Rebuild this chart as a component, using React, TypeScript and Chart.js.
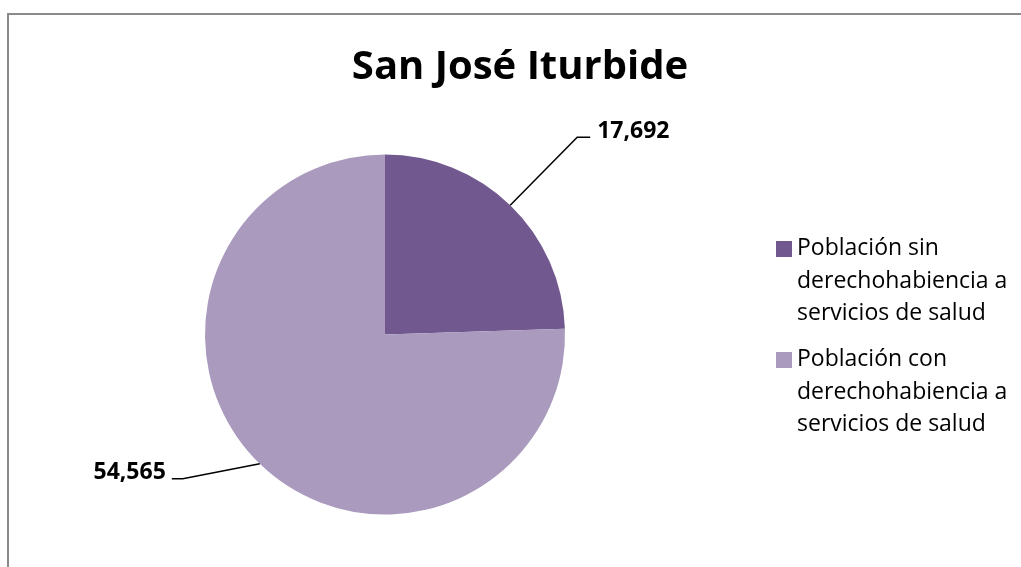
import React, { useEffect, useRef } from "react";
import { Chart, registerables } from "chart.js";

Chart.register(...registerables);

const titleText = "San José Iturbide";
const categories = [
  "Población sin derechohabiencia a servicios de salud",
  "Población con derechohabiencia a servicios de salud",
];
const values = [17692, 54565];
const colors = ["#71598F", "#A99ABE"];
// leader line: [elbow dx, elbow dy, horizontal run] from slice edge midpoint
const leaderOffsets: [number, number, number][] = [
  [67, -68, 13],
  [-77, 15, -11],
];

const FONT = '"Open Sans", "Liberation Sans", sans-serif';

function wrapText(ctx: CanvasRenderingContext2D, text: string, maxW: number): string[] {
  const words = text.split(" ");
  const lines: string[] = [];
  let cur = "";
  for (const w of words) {
    const test = cur ? cur + " " + w : w;
    if (cur && ctx.measureText(test).width > maxW) {
      lines.push(cur);
      cur = w;
    } else cur = test;
  }
  if (cur) lines.push(cur);
  return lines;
}

const overlayPlugin = {
  id: "overlay",
  afterDraw(chart: any) {
    const ctx: CanvasRenderingContext2D = chart.ctx;
    ctx.save();
    // title
    ctx.fillStyle = "#000";
    ctx.font = `bold 40px ${FONT}`;
    ctx.textAlign = "center";
    ctx.textBaseline = "alphabetic";
    ctx.fillText(titleText, 520, 79);

    // data labels with leader lines
    const meta = chart.getDatasetMeta(0);
    ctx.font = `bold 23px ${FONT}`;
    meta.data.forEach((arc: any, i: number) => {
      const p = arc.getProps(["x", "y", "startAngle", "endAngle", "outerRadius"], true);
      const mid = (p.startAngle + p.endAngle) / 2;
      const ex = p.x + Math.cos(mid) * p.outerRadius;
      const ey = p.y + Math.sin(mid) * p.outerRadius;
      const [dx, dy, run] = leaderOffsets[i];
      const bx = ex + dx;
      const by = ey + dy;
      const hx = bx + run;
      ctx.strokeStyle = "#000";
      ctx.lineWidth = 1.5;
      ctx.beginPath();
      ctx.moveTo(ex, ey);
      ctx.lineTo(bx, by);
      ctx.lineTo(hx, by);
      ctx.stroke();
      const label = values[i].toLocaleString("en-US");
      if (run >= 0) {
        ctx.textAlign = "left";
        ctx.fillText(label, hx + 7, by + 1);
      } else {
        ctx.textAlign = "right";
        ctx.fillText(label, hx - 6, by);
      }
    });

    // legend
    ctx.font = `23px ${FONT}`;
    ctx.textAlign = "left";
    let top = 241;
    const lineH = 32.5;
    categories.forEach((cat, i) => {
      ctx.fillStyle = colors[i];
      ctx.fillRect(776, top, 16, 16);
      ctx.fillStyle = "#000";
      const lines = wrapText(ctx, cat, 220);
      let base = top + 14;
      lines.forEach((ln, k) => {
        ctx.fillText(ln, 797, base + k * lineH);
      });
      const last = base + (lines.length - 1) * lineH;
      top = last + 32;
    });
    ctx.restore();
  },
};

export default function App() {
  const ref = useRef<HTMLCanvasElement>(null);
  useEffect(() => {
    if (!ref.current) return;
    const chart = new Chart(ref.current, {
      type: "pie",
      data: {
        labels: categories,
        datasets: [
          {
            data: values,
            backgroundColor: colors,
            borderWidth: 0,
          },
        ],
      },
      options: {
        animation: false,
        responsive: false,
        maintainAspectRatio: false,
        layout: { padding: { left: 205, right: 456, top: 154.5, bottom: 52.5 } },
        plugins: {
          legend: { display: false },
          title: { display: false },
          tooltip: { enabled: false },
        },
      },
      plugins: [overlayPlugin],
    });
    return () => chart.destroy();
  }, []);
  return (
    <div style={{ position: "fixed", left: 0, top: 0, width: 1021, height: 567, overflow: "hidden", background: "#fff" }}>
      <div
        style={{
          position: "absolute",
          left: 7,
          top: 13,
          width: 1100,
          height: 700,
          border: "2px solid #8a8a8a",
          boxSizing: "border-box",
        }}
      />
      <canvas ref={ref} width={1021} height={567} style={{ position: "absolute", left: 0, top: 0, width: 1021, height: 567 }} />
    </div>
  );
}
